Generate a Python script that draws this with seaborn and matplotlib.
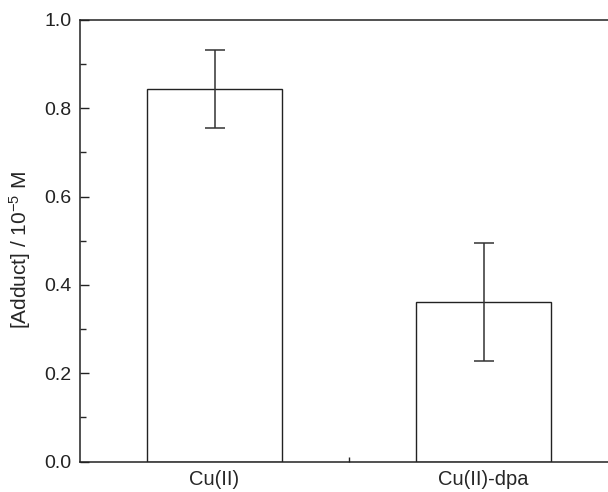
import numpy as np
import pandas as pd
import seaborn as sns
import matplotlib.pyplot as plt
from matplotlib.ticker import MultipleLocator, FixedLocator

# data
samples = ['Cu(II)', 'Cu(II)-dpa']
adduct = [0.844, 0.361]
adduct_err = [0.088, 0.134]

df = pd.DataFrame({'sample': samples, 'adduct': adduct, 'err': adduct_err})

sns.set_style('ticks')
plt.rcParams['font.family'] = ['Liberation Sans', 'DejaVu Sans']
plt.rcParams['mathtext.fontset'] = 'custom'
plt.rcParams['mathtext.rm'] = 'Liberation Sans'
plt.rcParams['mathtext.it'] = 'Liberation Sans'

fig = plt.figure(figsize=(6.08, 4.92), dpi=100)
ax = fig.add_axes([80 / 608, 30.5 / 492, 538 / 608, 441.5 / 492])

sns.barplot(data=df, x='sample', y='adduct', ax=ax, width=0.5,
            color='white', edgecolor='#222222', linewidth=1.0, errorbar=None)
for p in ax.patches:
    p.set_facecolor('white')

ax.errorbar(np.arange(len(samples)), df['adduct'], yerr=df['err'],
            fmt='none', ecolor='#333333', elinewidth=1.1, capsize=7, capthick=1.1)

ax.set_xlim(-0.5, 1.5)
ax.set_ylim(0, 1.0)
ax.yaxis.set_major_locator(MultipleLocator(0.2))
ax.yaxis.set_minor_locator(MultipleLocator(0.1))
ax.xaxis.set_minor_locator(FixedLocator([0.5]))
ax.yaxis.set_major_formatter(plt.FuncFormatter(lambda v, _: f'{v:.1f}'))

for s in ax.spines.values():
    s.set_visible(True)
    s.set_linewidth(1.1)
    s.set_color('#222222')

ax.tick_params(axis='y', which='major', direction='in', length=6.5, width=1.0,
               labelsize=14, pad=6, colors='#222222')
ax.tick_params(axis='y', which='minor', direction='in', length=4, width=1.0)
ax.tick_params(axis='x', which='major', length=0, labelsize=14.5, pad=6)
ax.tick_params(axis='x', which='minor', direction='in', length=3.5, width=1.0)

ax.set_xlabel('')
ax.set_ylabel('[Adduct] / 10$^{-5}$ M', fontsize=15)
ax.yaxis.set_label_coords(-0.087, 0.48)

plt.savefig('out.png', dpi=100)
